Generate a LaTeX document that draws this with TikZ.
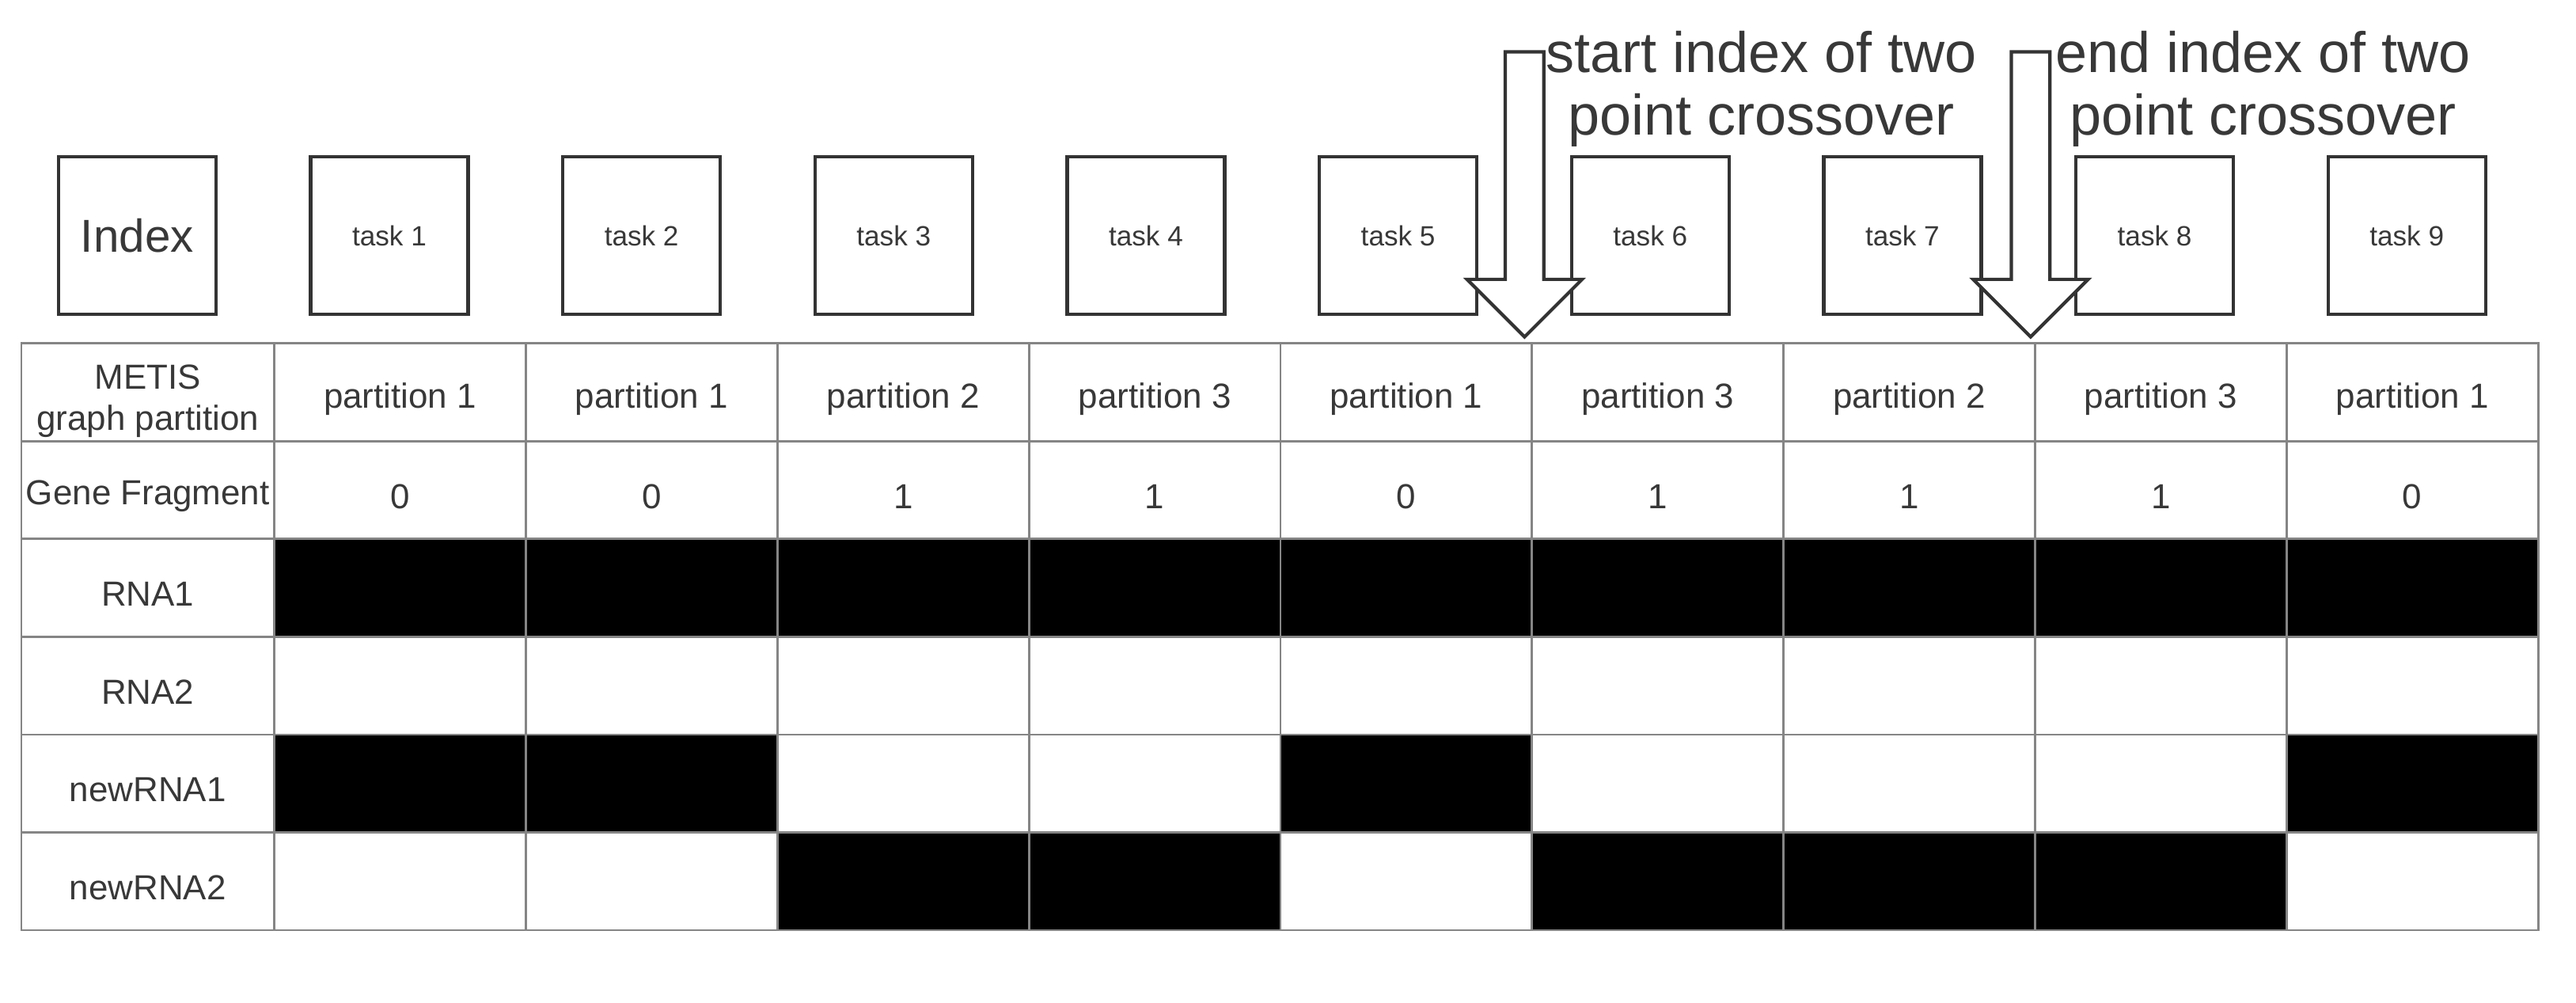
\documentclass[tikz,border=0pt]{standalone}
\usepackage{fontspec}
\setmainfont{Liberation Sans}

\definecolor{boxgray}{HTML}{333333}
\definecolor{gridgray}{HTML}{858585}
\definecolor{txtgray}{HTML}{383838}

\begin{document}
\begin{tikzpicture}[x=0.2076cm,y=0.2076cm]
  \tikzset{
    taskbox/.style={draw=boxgray,line width=1.2pt,minimum size=1.99cm,inner sep=0pt,
      text=txtgray,font=\fontsize{10}{12}\selectfont},
    cell/.style={text=txtgray,font=\fontsize{12.5}{14.7}\selectfont,align=center,inner sep=0pt},
    grid/.style={draw=gridgray,line width=0.8pt},
    blockarrow/.style={draw=boxgray,line width=1.2pt,fill=white,line join=miter},
    note/.style={text=txtgray,font=\fontsize{20.5}{22.5}\selectfont,align=center,inner sep=0pt}}
  \useasboundingbox (0,0) rectangle (156.8,61);

  % index row
  \node[taskbox,font=\fontsize{16.6}{20}\selectfont](idx) at (8.35,46.65){Index};
  \node[taskbox](t1) at (23.70,46.65){task 1};
  \node[taskbox](t2) at (39.05,46.65){task 2};
  \node[taskbox](t3) at (54.40,46.65){task 3};
  \node[taskbox](t4) at (69.75,46.65){task 4};
  \node[taskbox](t5) at (85.10,46.65){task 5};
  \node[taskbox](t6) at (100.45,46.65){task 6};
  \node[taskbox](t7) at (115.80,46.65){task 7};
  \node[taskbox](t8) at (131.15,46.65){task 8};
  \node[taskbox](t9) at (146.50,46.65){task 9};

  % black cells
  \fill (16.7,28.2) rectangle (154.5,22.25);
  \foreach \i in {1,2,5,9}
    \fill ({1.39+15.31*\i},16.3) rectangle ++(15.31,-5.95);
  \foreach \i in {3,4,6,7,8}
    \fill ({1.39+15.31*\i},10.35) rectangle ++(15.31,-5.95);

  % table grid
  \draw[grid] (1.3,4.4) rectangle (154.5,40.1);
  \draw[grid] (16.7,4.4) -- (16.7,40.1);
  \foreach \i in {1,...,8}
    \draw[grid] ({16.7+15.31*\i},4.4) -- ++(0,35.7);
  \foreach \j in {1,...,5}
    \draw[grid] (1.3,{40.1-5.95*\j}) -- ++(153.2,0);

  % row labels
  \node[cell](lmetis) at (9,36.6){METIS\\graph partition};
  \node[cell](lgene) at (9,30.8){Gene Fragment};
  \node[cell](lrna1) at (9,24.85){RNA1};
  \node[cell](lrna2) at (9,18.9){RNA2};
  \node[cell](lnew1) at (9,12.95){newRNA1};
  \node[cell](lnew2) at (9,7.0){newRNA2};

  \foreach \p [count=\i] in {1,1,2,3,1,3,2,3,1}
    \node[cell](part\i) at ({9.045+15.31*\i},36.7){partition \p};
  \foreach \g [count=\i] in {0,0,1,1,0,1,1,1,0}
    \node[cell](gene\i) at ({9.045+15.31*\i},30.8){\g};

  % crossover points
  \coordinate (stip) at (92.8,40.5);
  \coordinate (etip) at (123.6,40.5);
  \draw[blockarrow](stip) -- ++(-3.5,3.5) -- ++(2.325,0) -- ++(0,13.84) -- ++(2.35,0)
    -- ++(0,-13.84) -- ++(2.325,0) -- cycle;
  \draw[blockarrow](etip) -- ++(-3.5,3.5) -- ++(2.325,0) -- ++(0,13.84) -- ++(2.35,0)
    -- ++(0,-13.84) -- ++(2.325,0) -- cycle;
  \node[note](snote) at (107.2,55.6){start index of two\\point crossover};
  \node[note](enote) at (137.75,55.6){end index of two\\point crossover};

\end{tikzpicture}
\end{document}
